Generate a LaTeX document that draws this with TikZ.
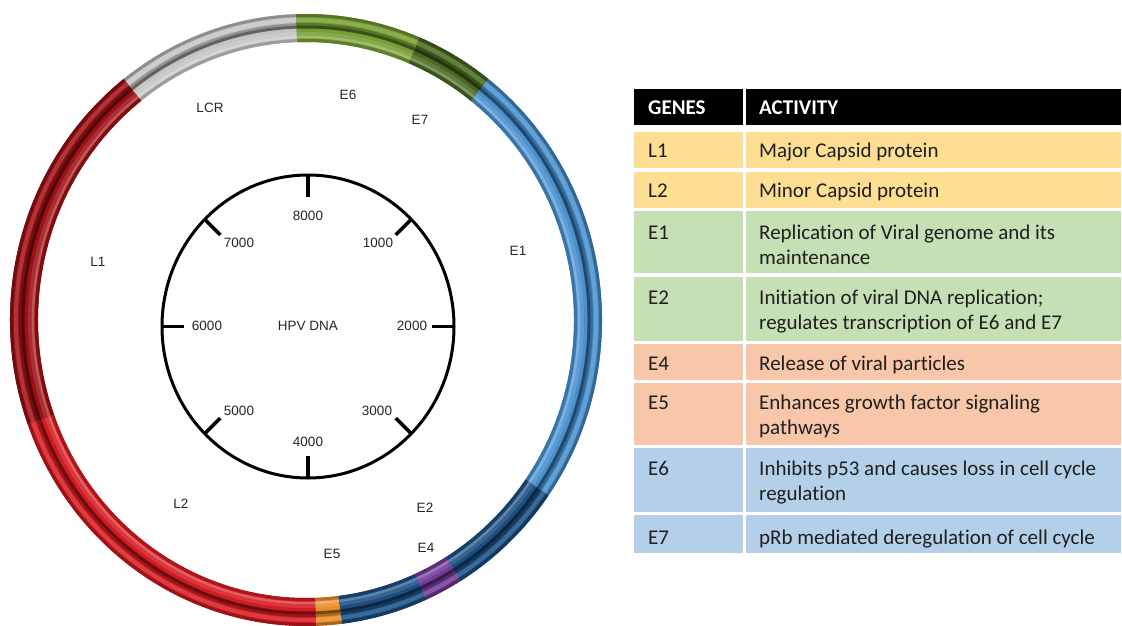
\documentclass[tikz,border=0pt]{standalone}
\usepackage{fontspec}
\setmainfont{Liberation Sans}
\newfontfamily\tabfont[Ligatures=NoCommon]{Carlito}

% gene colours of the genome ring
\definecolor{cLCR}{RGB}{196,196,196}
\definecolor{cEsix}{RGB}{118,158,52}
\definecolor{cEseven}{RGB}{72,106,32}
\definecolor{cEone}{RGB}{72,144,206}
\definecolor{cEtwo}{RGB}{28,78,130}
\definecolor{cEfour}{RGB}{112,58,150}
\definecolor{cEfive}{RGB}{232,140,40}
\definecolor{cLone}{RGB}{158,16,22}
\definecolor{cLtwo}{RGB}{212,28,32}
% table row colours
\definecolor{rowYel}{RGB}{253,222,146}
\definecolor{rowGrn}{RGB}{197,224,180}
\definecolor{rowSal}{RGB}{248,198,168}
\definecolor{rowBlu}{RGB}{180,208,233}

% one shaded tube segment of the ring between two angles
\newcommand\tubearc[4]{% start, end, radial offset, style
  \draw[#4] (#1:282+#3 and 292+#3) arc[start angle=#1,end angle=#2,x radius=282+#3,y radius=292+#3];
}
\newcommand\tubeseg[3]{%
  \tubearc{#1}{#2}{0}{line width=28pt,#3}
  \tubearc{#1}{#2}{12.5}{line width=3pt,#3!72!black}
  \tubearc{#1}{#2}{8}{line width=4pt,#3!85!white}
  \tubearc{#1}{#2}{3.5}{line width=3pt,#3!75!black}
  \tubearc{#1}{#2}{1}{line width=3pt,#3!50!black}
  \tubearc{#1}{#2}{-6}{line width=4pt,#3!88!white}
  \tubearc{#1}{#2}{-9}{line width=2.5pt,#3!70!white}
  \tubearc{#1}{#2}{-12.5}{line width=3pt,#3!80!black}
}

\tikzset{
  genelabel/.style={font=\fontsize{13.5}{16}\selectfont, text=black!85, inner sep=0},
  ticklabel/.style={genelabel},
  tickline/.style={line width=3.5pt, black},
  cellbox/.style={rectangle, inner sep=0, outer sep=0, anchor=north west, draw=none},
  celltext/.style={font=\tabfont\fontsize{21}{25.5}\selectfont, text=black!88, inner sep=0, anchor=base west, align=left},
  headtext/.style={celltext, font=\tabfont\bfseries\fontsize{21}{25.5}\selectfont, text=white},
}

\begin{document}
\begin{tikzpicture}[x=1pt,y=1pt]
\useasboundingbox (0,0) rectangle (1122,-626);
\fill[white] (0,0) rectangle (1122,-626);

% ---- genome ring ----
\begin{scope}
  \clip (0,0) rectangle (1122,-626);
  \begin{scope}[shift={(306,-320)}]
    \tubeseg{-35}{52}{cEone}
    \tubeseg{52}{67.5}{cEseven}
    \tubeseg{67.5}{92}{cEsix}
    \tubeseg{92}{128}{cLCR}
    \tubeseg{128}{200}{cLone}
    \tubeseg{200}{272}{cLtwo}
    \tubeseg{-88}{-83}{cEfive}
    \tubeseg{-83}{-66}{cEtwo}
    \tubeseg{-66}{-58.5}{cEfour}
    \tubeseg{-58.5}{-35}{cEtwo}
  \end{scope}
\end{scope}

% gene labels inside the ring
\node[genelabel] (lLCR) at (210,-108) {LCR};
\node[genelabel] (lE6) at (348,-95) {E6};
\node[genelabel] (lE7) at (420,-120) {E7};
\node[genelabel] (lE1) at (518,-251) {E1};
\node[genelabel] (lL1) at (98,-262) {L1};
\node[genelabel] (lL2) at (181,-504) {L2};
\node[genelabel] (lE2) at (425,-508) {E2};
\node[genelabel] (lE4) at (426,-548) {E4};
\node[genelabel] (lE5) at (332,-554) {E5};

% ---- inner scale circle ----
\begin{scope}[shift={(308,-326.5)}]
  \draw[line width=3pt] (0,0) ellipse [x radius=146, y radius=151.5];
  \foreach \a in {0,45,...,315}
    \draw[tickline] (\a:146 and 151.5) -- (\a:124 and 129.5);
\end{scope}
\node[ticklabel] (t8) at (308,-216) {8000};
\node[ticklabel] (t7) at (239,-243) {7000};
\node[ticklabel] (t1) at (378,-243) {1000};
\node[ticklabel] (t6) at (207,-326) {6000};
\node[ticklabel] (hpv) at (308,-326) {HPV DNA};
\node[ticklabel] (t2) at (412,-326) {2000};
\node[ticklabel] (t5) at (239,-411) {5000};
\node[ticklabel] (t3) at (377,-411) {3000};
\node[ticklabel] (t4) at (308,-442) {4000};

% ---- gene activity table ----
% (two-line texts are placed by the baseline of their last line)
\node[cellbox, fill=black, minimum width=108.5, minimum height=36] (hG) at (634,-89) {};
\node[cellbox, fill=black, minimum width=375.5, minimum height=36] (hA) at (745.5,-89) {};
\node[headtext] (hGt) at (648,-114.5) {GENES};
\node[headtext] (hAt) at (759,-114.5) {ACTIVITY};

\node[cellbox, fill=rowYel, minimum width=108.5, minimum height=36] (cL1) at (634,-132) {};
\node[cellbox, fill=rowYel, minimum width=375.5, minimum height=36] (aL1) at (745.5,-132) {};
\node[celltext] at (648,-157) (gL1) {L1};
\node[celltext] at (759,-157) (xL1) {Major Capsid protein};

\node[cellbox, fill=rowYel, minimum width=108.5, minimum height=36] (cL2) at (634,-172) {};
\node[cellbox, fill=rowYel, minimum width=375.5, minimum height=36] (aL2) at (745.5,-172) {};
\node[celltext] at (648,-197) (gL2) {L2};
\node[celltext] at (759,-197) (xL2) {Minor Capsid protein};

\node[cellbox, fill=rowGrn, minimum width=108.5, minimum height=62] (cE1) at (634,-211) {};
\node[cellbox, fill=rowGrn, minimum width=375.5, minimum height=62] (aE1) at (745.5,-211) {};
\node[celltext] at (648,-239) (gE1) {E1};
\node[celltext] at (759,-264.5) (xE1) {Replication of Viral genome and its\\maintenance};

\node[cellbox, fill=rowGrn, minimum width=108.5, minimum height=64] (cE2) at (634,-277) {};
\node[cellbox, fill=rowGrn, minimum width=375.5, minimum height=64] (aE2) at (745.5,-277) {};
\node[celltext] at (648,-304) (gE2) {E2};
\node[celltext] at (759,-329.5) (xE2) {Initiation of viral DNA replication;\\regulates transcription of E6 and E7};

\node[cellbox, fill=rowSal, minimum width=108.5, minimum height=36] (cE4) at (634,-344) {};
\node[cellbox, fill=rowSal, minimum width=375.5, minimum height=36] (aE4) at (745.5,-344) {};
\node[celltext] at (648,-370) (gE4) {E4};
\node[celltext] at (759,-370) (xE4) {Release of viral particles};

\node[cellbox, fill=rowSal, minimum width=108.5, minimum height=62] (cE5) at (634,-383) {};
\node[cellbox, fill=rowSal, minimum width=375.5, minimum height=62] (aE5) at (745.5,-383) {};
\node[celltext] at (648,-409) (gE5) {E5};
\node[celltext] at (759,-434.5) (xE5) {Enhances growth factor signaling\\pathways};

\node[cellbox, fill=rowBlu, minimum width=108.5, minimum height=64] (cE6) at (634,-448) {};
\node[cellbox, fill=rowBlu, minimum width=375.5, minimum height=64] (aE6) at (745.5,-448) {};
\node[celltext] at (648,-475) (gE6) {E6};
\node[celltext] at (759,-500.5) (xE6) {Inhibits p53 and causes loss in cell cycle\\regulation};

\node[cellbox, fill=rowBlu, minimum width=108.5, minimum height=38] (cE7) at (634,-515) {};
\node[cellbox, fill=rowBlu, minimum width=375.5, minimum height=38] (aE7) at (745.5,-515) {};
\node[celltext] at (648,-544) (gE7) {E7};
\node[celltext] at (759,-544) (xE7) {pRb mediated deregulation of cell cycle};
\end{tikzpicture}
\end{document}
